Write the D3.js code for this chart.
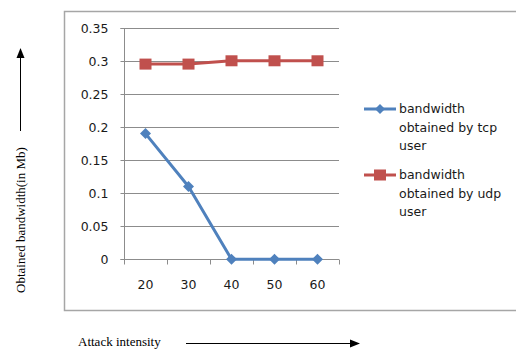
<!DOCTYPE html>
<html>
<head>
<meta charset="utf-8">
<script src="https://cdn.jsdelivr.net/npm/d3@7"></script>
<style>
  html, body { margin: 0; padding: 0; background: #fff; }
  svg { display: block; }
</style>
</head>
<body>
<svg id="chart" width="516" height="349"></svg>
<script>
// Attack intensity levels on the x axis
const categories = ["20", "30", "40", "50", "60"];
// Bandwidth (Mb) obtained by each user type
const tcpValues = [0.19, 0.11, 0, 0, 0];
const udpValues = [0.295, 0.295, 0.3, 0.3, 0.3];
const yTicks = [0, 0.05, 0.1, 0.15, 0.2, 0.25, 0.3, 0.35];
const tickLabels = ["0", "0.05", "0.1", "0.15", "0.2", "0.25", "0.3", "0.35"];
const seriesNames = ["bandwidth obtained by tcp user", "bandwidth obtained by udp user"];
const legendLines = [["bandwidth", "obtained by tcp", "user"], ["bandwidth", "obtained by udp", "user"]];

const svg = d3.select("#chart");
const blue = "#4F81BD", red = "#C0504D";
const sans = "'DejaVu Sans', Verdana, sans-serif";
const serif = "'Liberation Serif', 'Times New Roman', serif";
const textColor = "#1a1a1a";

// Outer chart frame (open on the right)
svg.append("path")
  .attr("d", "M516,11.5 H64.5 V310.5 H516")
  .attr("fill", "none").attr("stroke", "#a6a6a6").attr("stroke-width", 1.5);

const plot = { left: 124, right: 339, top: 27.7, bottom: 259.3 };
const x = d3.scalePoint().domain(categories).range([plot.left, plot.right]).padding(0.5);
const xBand = d3.scaleBand().domain(categories).range([plot.left, plot.right]);
const y = d3.scaleLinear().domain([0, 0.35]).range([plot.bottom, plot.top]);

// Horizontal gridlines
svg.append("g").selectAll("line").data(yTicks.filter(d => d > 0)).join("line")
  .attr("x1", plot.left).attr("x2", plot.right)
  .attr("y1", d => Math.round(y(d)) + 0.5).attr("y2", d => Math.round(y(d)) + 0.5)
  .attr("stroke", "#8c8c8c").attr("stroke-width", 1);

// Y axis
const yAxis = svg.append("g")
  .attr("transform", `translate(${plot.left + 0.5},0)`)
  .call(d3.axisLeft(y).tickValues(yTicks).tickSize(4).tickPadding(12)
    .tickFormat((d, i) => tickLabels[i]));
yAxis.select(".domain").attr("stroke", "#8c8c8c").attr("d", `M-4,${Math.round(y(0.35)) + 0.5}H0V${Math.round(y(0)) + 0.5}H-4`);
yAxis.selectAll(".tick line").attr("stroke", "#8c8c8c");
yAxis.selectAll(".tick").attr("transform", d => `translate(0,${Math.round(y(d)) + 0.5})`);
yAxis.selectAll("text").attr("font-family", sans).attr("font-size", 12.5).attr("fill", textColor);

// X axis with ticks between categories
const xAxisG = svg.append("g").attr("transform", `translate(0,${Math.round(plot.bottom) + 0.5})`);
xAxisG.append("line").attr("x1", plot.left).attr("x2", plot.right)
  .attr("stroke", "#8c8c8c");
const boundaries = categories.map(c => xBand(c)).concat([plot.right]);
xAxisG.selectAll("line.tk").data(boundaries).join("line").attr("class", "tk")
  .attr("x1", d => Math.round(d) + 0.5).attr("x2", d => Math.round(d) + 0.5)
  .attr("y1", 0).attr("y2", 5).attr("stroke", "#8c8c8c");
xAxisG.selectAll("text").data(categories).join("text")
  .attr("x", d => x(d)).attr("y", 29)
  .attr("text-anchor", "middle")
  .attr("font-family", sans).attr("font-size", 12.5).attr("fill", textColor)
  .text(d => d);

// Series lines and markers
const line = d3.line().x((d, i) => x(categories[i])).y(d => y(d));
svg.append("path").datum(tcpValues).attr("d", line)
  .attr("fill", "none").attr("stroke", blue).attr("stroke-width", 3).attr("stroke-linejoin", "round");
svg.append("path").datum(udpValues).attr("d", line)
  .attr("fill", "none").attr("stroke", red).attr("stroke-width", 3).attr("stroke-linejoin", "round");

const diamond = s => `M0,${-s}L${s},0L0,${s}L${-s},0Z`;
svg.append("g").selectAll("path").data(tcpValues).join("path")
  .attr("transform", (d, i) => `translate(${x(categories[i])},${y(d)})`)
  .attr("d", diamond(5.5)).attr("fill", blue);
svg.append("g").selectAll("rect").data(udpValues).join("rect")
  .attr("x", (d, i) => x(categories[i]) - 6).attr("y", d => y(d) - 5.5)
  .attr("width", 12).attr("height", 11).attr("fill", red);

// Legend
const legend = svg.append("g");
const legendY = [109, 175];
[blue, red].forEach((col, k) => {
  const g = legend.append("g").attr("transform", `translate(0,${legendY[k]})`);
  g.append("line").attr("x1", 364).attr("x2", 396).attr("y1", 0).attr("y2", 0)
    .attr("stroke", col).attr("stroke-width", 3);
  if (k === 0) g.append("path").attr("transform", "translate(380,0)").attr("d", diamond(5)).attr("fill", col);
  else g.append("rect").attr("x", 374).attr("y", -5.5).attr("width", 12).attr("height", 11).attr("fill", col);
  g.append("title").text(seriesNames[k]);
  g.selectAll("text").data(legendLines[k]).join("text")
    .attr("x", 399).attr("y", (d, i) => i * 18.5 + 4)
    .attr("font-family", sans).attr("font-size", 12.5).attr("fill", textColor)
    .text(d => d);
});

// Axis titles with arrows
const defs = svg.append("defs");
defs.append("marker").attr("id", "arrow").attr("viewBox", "0 0 10 10")
  .attr("refX", 9).attr("refY", 5).attr("markerWidth", 10).attr("markerHeight", 10)
  .attr("markerUnits", "userSpaceOnUse").attr("orient", "auto")
  .append("path").attr("d", "M0,1L10,5L0,9Z").attr("fill", "#000");

svg.append("text")
  .attr("transform", "translate(25,293) rotate(-90)")
  .attr("font-family", serif).attr("font-size", 13).attr("fill", "#000")
  .text("Obtained bandwidth(in Mb)");
svg.append("line").attr("x1", 20.5).attr("x2", 20.5).attr("y1", 131).attr("y2", 49)
  .attr("stroke", "#000").attr("stroke-width", 1).attr("marker-end", "url(#arrow)");

svg.append("text")
  .attr("x", 78).attr("y", 346)
  .attr("font-family", serif).attr("font-size", 13).attr("fill", "#000")
  .text("Attack intensity");
svg.append("line").attr("x1", 186).attr("x2", 359).attr("y1", 343.5).attr("y2", 343.5)
  .attr("stroke", "#000").attr("stroke-width", 1).attr("marker-end", "url(#arrow)");
</script>
</body>
</html>
